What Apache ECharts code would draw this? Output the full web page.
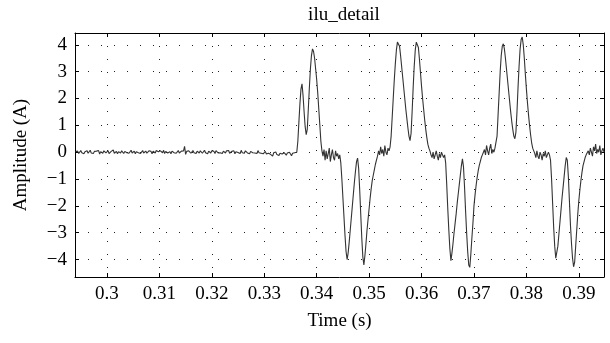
<!DOCTYPE html>
<html>
<head>
<meta charset="utf-8">
<script src="https://cdn.jsdelivr.net/npm/echarts@6/dist/echarts.min.js"></script>
<style>
  html, body { margin: 0; padding: 0; background: #fff; }
  #chart { width: 610px; height: 343px; }
</style>
</head>
<body>
<div id="chart"></div>
<script>
// sampled current, one value every dt seconds starting at t0
const t0 = 0.294;
const dt = 0.0002;

const xTicks = [0.30, 0.31, 0.32, 0.33, 0.34, 0.35, 0.36, 0.37, 0.38, 0.39];
const yTicks = [-4, -3, -2, -1, 0, 1, 2, 3, 4];

const baseline = [
  0.02,-0.03,0.04,-0.05,0.01,0.06,-0.02,0.03,-0.06,0.02,
  -0.01,0.05,-0.04,0.02,0.07,-0.03,0.01,-0.05,0.03,0.0,
  0.04,-0.02,0.06,-0.07,0.02,0.03,-0.04,0.05,-0.01,-0.03,
  0.02,0.06,-0.05,0.01,0.03,-0.02,0.08,-0.04,0.0,0.03,
  -0.06,0.02,0.04,-0.03,0.05,-0.01,-0.05,0.03,0.06,-0.02,
  0.01,-0.04,0.03,0.07,-0.03,0.0,0.04,-0.06,0.02,0.05,
  -0.02,0.03,-0.05,0.01,0.06,-0.03,0.02,0.04,-0.04,0.0,
  0.05,-0.02,0.03,-0.06,0.04,0.01,-0.03,0.06,-0.01,0.02,
  -0.04,0.05,0.0,-0.02,0.07,-0.05,0.03,0.01,-0.03,0.04,
  0.02,-0.06,0.04,0.01,-0.02,0.05,-0.04,0.03,0.06,-0.03,
  0.0,0.04,-0.02,0.05,0.22,-0.08,0.03,-0.03,0.05,0.01,
  -0.04,0.03,0.06,-0.02,0.01,-0.05,0.04,0.02,-0.03,0.05,
  0.0,-0.04,0.03,0.07,-0.02,0.02,-0.06,0.04,0.01,-0.03,
  0.05,-0.01,0.03,-0.05,0.06,0.0,-0.03,0.04,-0.02,0.02,
  -0.05,0.04,0.01,-0.03,0.05,-0.02,0.06,-0.04,0.02,0.03,
  -0.02,0.05,-0.06,0.02,0.04,-0.01,0.03,-0.05,0.07,-0.02,
  0.01,-0.04,0.05,0.02,-0.03,0.04,-0.06,0.03,0.0,-0.02,
  0.04,-0.03,0.02,-0.05,0.06,-0.02,0.01,-0.04,0.03,-0.06,
  -0.02,0.03,-0.07,0.0,-0.04,0.02,-0.08,-0.03,-0.15,-0.02,
  -0.06,0.01,-0.09,-0.03,-0.12,-0.04,0.0,-0.07,-0.1,-0.02,
  -0.05,-0.11,-0.03,-0.08,0.0,-0.06,-0.13,-0.04,-0.07,-0.02,
  -0.05,0.0
];
const posPulse1 = [0.4,1.1,1.8,2.35,2.55,2.1,1.5,0.95,0.65,0.85,1.6,2.4,3.1,3.6,3.85,3.75,3.5,3.1,2.7,2.2,1.6,1.0,0.4,0.05];
const noise1 = [-0.15,0.1,-0.3,0.05,-0.25,-0.05,0.15,-0.35,-0.1,0.1,-0.2,-0.3,0.05,-0.15,-0.05,-0.25,-0.1];
const negPulse1 = [-0.4,-1.0,-1.7,-2.4,-3.1,-3.7,-4.0,-3.75,-3.35,-2.9,-2.45,-2.0,-1.55,-1.1,-0.7,-0.35,-0.22,-0.6,-1.4,-2.3,-3.2,-3.9,-4.2,-3.85,-3.4,-2.9,-2.5,-2.1,-1.7,-1.35,-1.05,-0.85,-0.65,-0.45,-0.3,-0.15];
const noise2 = [0.05,-0.1,0.2,-0.05,0.1,-0.15,0.25,0.0,-0.1,0.15,0.05];
const posPulse2 = [0.2,0.6,1.3,2.0,2.7,3.3,3.8,4.1,4.16,3.95,3.6,3.2,2.8,2.4,2.0,1.6,1.25,0.9,0.6,0.43,0.7,1.5,2.4,3.2,3.8,4.1,4.15,3.9,3.45,2.95,2.45,2.0,1.6,1.2,0.85,0.55,0.3,0.15,0.05];
const noise3 = [-0.1,-0.2,0.0,-0.25,-0.1,0.05,-0.15,-0.3,-0.05,-0.2,0.0,-0.1,-0.2,-0.1];
const negPulse2 = [-0.4,-1.2,-2.1,-2.9,-3.6,-4.04,-3.75,-3.4,-3.0,-2.65,-2.3,-1.9,-1.55,-1.2,-0.85,-0.5,-0.25,-0.55,-1.3,-2.2,-3.0,-3.7,-4.2,-4.29,-3.8,-3.2,-2.65,-2.0,-1.6,-1.25,-0.95,-0.7,-0.5,-0.35,-0.2,-0.1];
const noise4 = [0.0,0.1,-0.1,0.25,0.05,-0.1,0.15,0.3,-0.05,0.1,0.0,0.15];
const posPulse3 = [0.15,0.6,1.4,2.2,3.0,3.6,3.95,4.04,3.85,3.5,3.1,2.7,2.3,1.9,1.5,1.15,0.85,0.6,0.5,0.75,1.5,2.4,3.2,3.85,4.2,4.29,4.0,3.5,2.9,2.35,1.85,1.4,1.0,0.65,0.35,0.15,0.05];
const noise5 = [-0.05,-0.2,0.05,-0.15,-0.25,0.0,-0.1,-0.3,-0.05,-0.15,0.05,-0.2,-0.1,0.0,-0.1];
const negPulse3 = [-0.3,-1.0,-1.9,-2.8,-3.5,-3.95,-3.9,-3.5,-3.05,-2.6,-2.15,-1.7,-1.3,-0.9,-0.5,-0.2,-0.3,-0.9,-1.8,-2.7,-3.4,-3.95,-4.27,-4.1,-3.5,-2.9,-2.3,-1.8,-1.4,-1.05,-0.75,-0.5,-0.35,-0.2,-0.1,-0.05];
const noise6 = [0.05,-0.1,0.15,0.0,-0.15,0.2,0.05,0.3,-0.05,0.1,0.0,0.25,-0.1,0.05,0.15,0.0];

const samples = [].concat(baseline, posPulse1, noise1, negPulse1, noise2, posPulse2,
  noise3, negPulse2, noise4, posPulse3, noise5, negPulse3, noise6);
const seriesData = samples.map((v, i) => [t0 + i * dt, v]);

const serif = "'Liberation Serif', 'DejaVu Serif', serif";
const dotted = { color: '#222', width: 1, type: [1, 12] };

const chart = echarts.init(document.getElementById('chart'), null, { renderer: 'canvas' });

function xAxisDef(pos, labels) {
  return {
    type: 'value', position: pos, min: 0.2939, max: 0.3948,
    axisLine: { show: true, onZero: false, lineStyle: { color: '#000', width: 1 } },
    axisTick: { show: true, inside: true, length: 4, customValues: xTicks, lineStyle: { color: '#000' } },
    axisLabel: { show: labels, customValues: xTicks, margin: 8, color: '#000', fontFamily: serif, fontSize: 19 },
    splitLine: { show: labels, lineStyle: dotted },
    name: labels ? 'Time (s)' : '', nameLocation: 'middle', nameGap: 35,
    nameTextStyle: { color: '#000', fontFamily: serif, fontSize: 19 }
  };
}
function yAxisDef(pos, labels) {
  return {
    type: 'value', position: pos, min: -4.65, max: 4.44,
    axisLine: { show: true, onZero: false, lineStyle: { color: '#000', width: 1 } },
    axisTick: { show: true, inside: true, length: 4, customValues: yTicks, lineStyle: { color: '#000' } },
    axisLabel: {
      show: labels, customValues: yTicks, margin: 8, color: '#000', fontFamily: serif, fontSize: 19,
      formatter: v => (v < 0 ? '\u2212' + (-v) : '' + v)
    },
    splitLine: { show: labels, lineStyle: dotted },
    name: labels ? 'Amplitude (A)' : '', nameLocation: 'middle', nameGap: 44, nameRotate: 90,
    nameTextStyle: { color: '#000', fontFamily: serif, fontSize: 19 }
  };
}

chart.setOption({
  animation: false,
  backgroundColor: '#fff',
  title: {
    text: 'ilu_detail', left: 339, top: 1, textAlign: 'center',
    textStyle: { color: '#000', fontFamily: serif, fontSize: 19, fontWeight: 'normal' }
  },
  grid: { left: 75, right: 6, top: 33, bottom: 66 },
  xAxis: [xAxisDef('bottom', true), xAxisDef('top', false)],
  yAxis: [yAxisDef('left', true), yAxisDef('right', false)],
  series: [{
    type: 'line', data: seriesData, showSymbol: false, symbol: 'none',
    lineStyle: { color: '#333', width: 1.1 }
  }]
});
</script>
</body>
</html>
